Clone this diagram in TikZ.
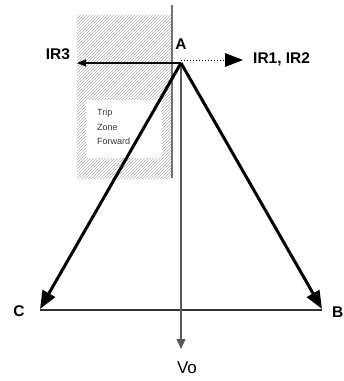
\documentclass[tikz,border=0pt]{standalone}
\usepackage{fontspec}
\setmainfont{Liberation Sans}
\usetikzlibrary{arrows.meta,patterns,calc}
\begin{document}
\begin{tikzpicture}[x=1pt,y=-1pt,
  lbl/.style={font=\fontsize{15.5}{15}\selectfont\bfseries, inner sep=0pt},
  small/.style={font=\fontsize{9}{14}\selectfont, text=black!80, inner sep=0pt, anchor=west},
  phase/.style={line width=3pt, -{Triangle[length=18pt,width=14pt]}},
  thin/.style={line width=1.1pt}
]
\useasboundingbox (0,0) rectangle (344,381);
% hatched trip zone
\fill[pattern=north east lines, pattern color=black!30] (77,15) rectangle (172,178);
\fill[white] (86,100) rectangle (162,158);
\node[small] (t1) at (97,113) {Trip};
\node[small] (t2) at (97,127) {Zone};
\node[small] (t3) at (97,141) {Forward};
% vertical boundary line
\coordinate (vt) at (172,5);
\coordinate (vb) at (172,178);
\draw[line width=1.5pt, black!55] (vt) -- (vb);
% points
\coordinate (A) at (181,63);
\coordinate (Ct) at (40,309);
\coordinate (Bt) at (322,309);
\coordinate (Cl) at (40,310);
\coordinate (Bl) at (322,310);
\coordinate (Vt) at (181,349);
\coordinate (IRl) at (77,63);
\coordinate (Ds) at (181,60);
\coordinate (De) at (243,60);
% base line
\draw[thin, black!80] (Cl) -- (Bl);
% Vo line
\draw[line width=1.3pt, black!65, -{Triangle[length=10pt,width=9pt]}] (A) -- (Vt);
% IR3 arrow
\draw[thin, -{Triangle[length=9pt,width=7pt]}] (A) -- (IRl);
% IR1, IR2 dotted arrow
\draw[line width=1pt, dotted] (Ds) -- ($(De)+(-16,0)$);
\fill ($(De)+(-18,-7)$) -- (De) -- ($(De)+(-18,7)$) -- cycle;
% phase vectors
\draw[phase] (A) -- (Ct);
\draw[phase] (A) -- (Bt);
% labels
\node[lbl] (la) at (181,44) {A};
\node[lbl] (lir3) at (58,54) {IR3};
\node[lbl, anchor=west] (lir12) at (253,59) {IR1, IR2};
\node[lbl] (lc) at (19,311) {C};
\node[lbl, anchor=west] (lb) at (332,312) {B};
\node[font=\fontsize{17}{17}\selectfont, inner sep=0pt] (lvo) at (187,368) {Vo};
\end{tikzpicture}
\end{document}
